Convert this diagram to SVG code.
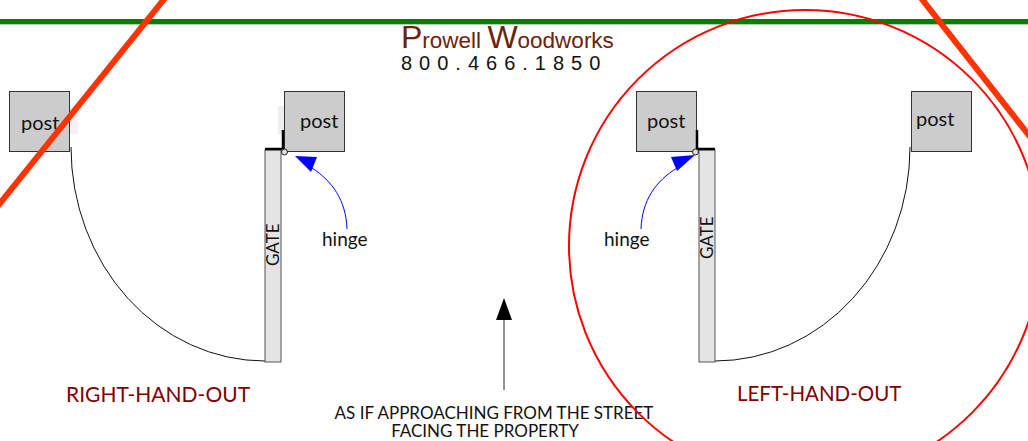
<svg xmlns="http://www.w3.org/2000/svg" width="1028" height="441" viewBox="0 0 1028 441">
<style>
text{font-family:Lato,"Noto Sans","DejaVu Sans",sans-serif;fill:#111}
.post{fill:#ccc;stroke:#333;stroke-width:1}
.gate{fill:#e4e4e4;stroke:#555;stroke-width:1}
.lbl{font-size:20px}
.hinge{font-size:19px}
.hand{font-size:21px;fill:#800000}
.note{font-size:17px;text-anchor:middle}
.swing{fill:none;stroke:#111;stroke-width:1}
.blue{fill:none;stroke:#00f;stroke-width:1}
.hw{fill:none;stroke:#000;stroke-width:2.5}
.pin{fill:#ddd;stroke:#222;stroke-width:1}
.big{fill:#ff3300;stroke:#ff3300;stroke-width:6}
</style>
<rect width="1028" height="441" fill="#fff"/>
<g id="smudges">
<rect x="70" y="106" width="8" height="28" fill="#f4f0f5"/>
<rect x="278" y="106" width="6" height="29" fill="#eee"/>
</g>
<g id="connectors">
<path class="swing" d="M71 147A194 214 0 0 0 265 361"/>
<path class="swing" d="M910 147A195 214 0 0 1 715 361"/>
<path class="blue" d="M347 229C346 200 332 181 312 168"/>
<polygon points="295,156 317,157 311,172" fill="#00f"/>
<path class="blue" d="M641 229C642 200 656 181 677 168"/>
<polygon points="695,155 671,157 677,171" fill="#00f"/>
<path d="M504 390V319" stroke="#222" stroke-width="1"/>
<polygon points="504,298 496,320 512,320" fill="#000"/>
</g>
<g id="post-1"><rect class="post" x="9.5" y="91.5" width="60" height="60"/><text class="lbl" x="21" y="130">post</text></g>
<g id="post-2"><rect class="post" x="284.5" y="91.5" width="60" height="60"/><text class="lbl" x="300" y="128">post</text></g>
<g id="post-3"><rect class="post" x="636.5" y="91.5" width="60" height="60"/><text class="lbl" x="647" y="128">post</text></g>
<g id="post-4"><rect class="post" x="911.5" y="91.5" width="60" height="60"/><text class="lbl" x="916" y="126">post</text></g>
<g id="gate-1">
<rect class="gate" x="265" y="150" width="16" height="212"/>
<path class="hw" d="M265 149H284M283 130V150"/>
<circle class="pin" cx="284.5" cy="152" r="3"/>
<text transform="translate(279 266) rotate(-90)" style="font-size:17px">GATE</text>
</g>
<g id="gate-2">
<rect class="gate" x="699" y="150" width="16" height="212"/>
<path class="hw" d="M715 149H696M697 130V150"/>
<circle class="pin" cx="695.5" cy="152" r="3"/>
<text transform="translate(713 259) rotate(-90)" style="font-size:17px">GATE</text>
</g>
<g id="labels">
<text class="hinge" x="322" y="246">hinge</text>
<text class="hinge" x="604" y="246">hinge</text>
<text class="hand" x="66" y="402">RIGHT-HAND-OUT</text>
<text class="hand" x="737" y="401" style="font-size:20.5px">LEFT-HAND-OUT</text>
<text class="note" x="494" y="419">AS IF APPROACHING FROM THE STREET</text>
<text class="note" x="485" y="437">FACING THE PROPERTY</text>
</g>
<g id="title">
<text x="401" y="48" style="font-family:'Liberation Sans',Arial,sans-serif;font-size:22.5px;fill:#6e2308"><tspan style="font-size:32px">P</tspan>rowell <tspan style="font-size:32px">W</tspan>oodworks</text>
<text x="401" y="70" style="font-family:'Liberation Sans',Arial,sans-serif;font-size:20px;letter-spacing:7px">800.466.1850</text>
</g>
<g id="overlays">
<path d="M0 24.5H1028" stroke="#a8d5a8" stroke-width="1"/>
<path d="M0 21.5H1028" stroke="#008000" stroke-width="5"/>
<circle cx="805" cy="246" r="236" fill="none" stroke="#f00" stroke-width="2"/>
<path class="big" d="M165 -2L-3 207M921 -2L1031 138"/>
</g>
</svg>
